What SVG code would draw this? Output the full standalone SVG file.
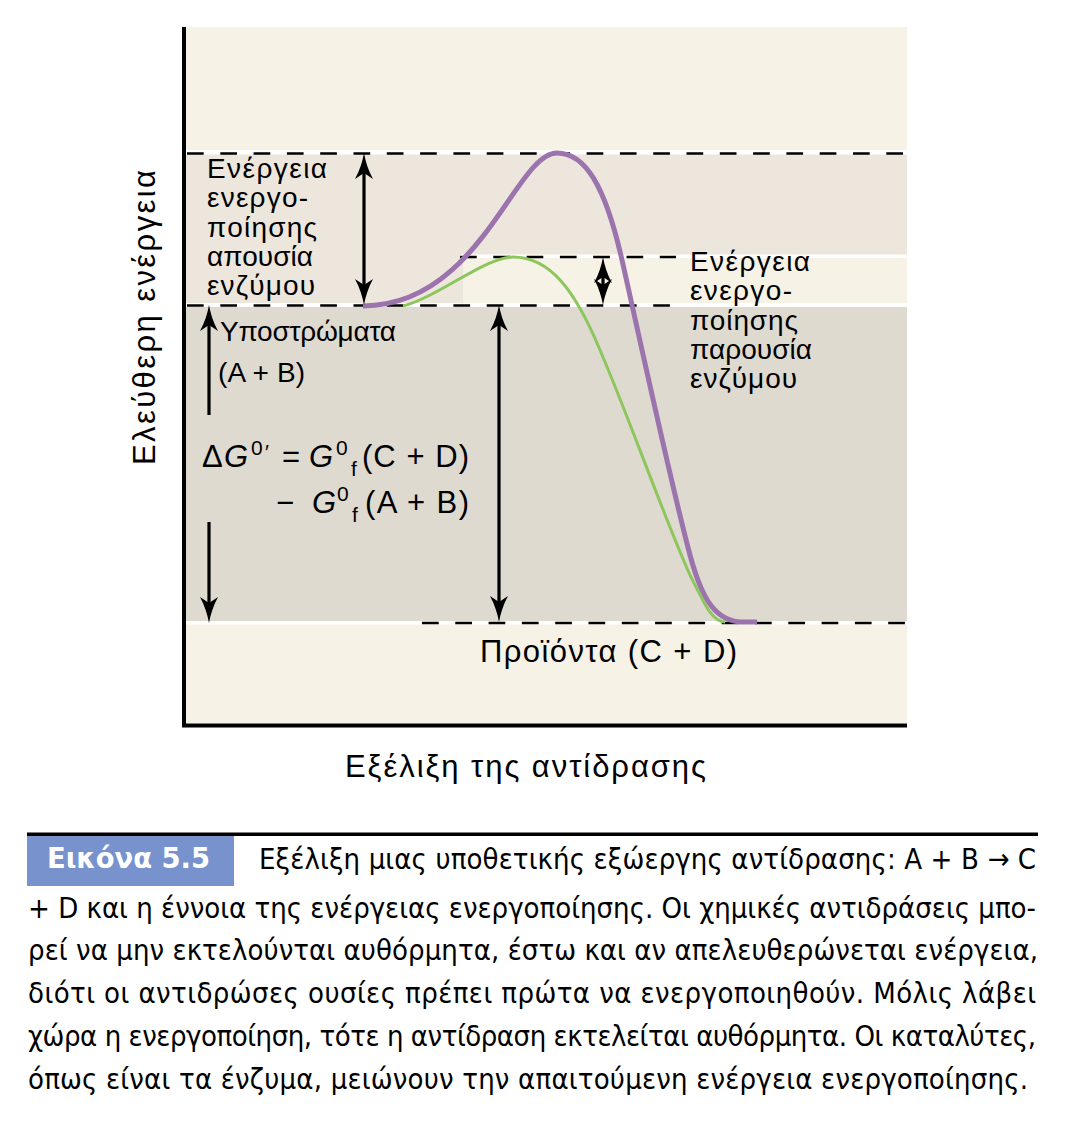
<svg xmlns="http://www.w3.org/2000/svg" xmlns:xlink="http://www.w3.org/1999/xlink" width="1073" height="1128" viewBox="0 0 1073 1128">
<style>
.lbl{font-family:"Liberation Sans",Arial,sans-serif;font-size:28px;fill:#000}
.big{font-family:"Liberation Sans",Arial,sans-serif;font-size:31px;fill:#000}
.sm{font-family:"Liberation Sans",Arial,sans-serif;font-size:21px;fill:#000}
.it{font-style:italic}
.cap{font-family:"DejaVu Sans Condensed","DejaVu Sans",sans-serif;font-stretch:condensed;font-size:29px;fill:#000}
.white{fill:#fff}
.dash{stroke:#000;stroke-width:2.6;stroke-dasharray:16.7 16.6;fill:none}
.shaft{stroke:#000;stroke-width:3.2;fill:none}
.axis{stroke:#000;stroke-width:4;fill:none}
</style>
<defs>
<path id="ah" d="M0,0 C1.5,8 4,17 9,26 L0,20 L-9,26 C-4,17 -1.5,8 0,0 Z" fill="#000"/>
</defs>
<rect width="1073" height="1128" fill="#fff"/>
<g id="plot-background">
<rect x="186" y="27" width="721" height="696" fill="#F6F2E6"/>
<rect x="186" y="153" width="721" height="152" fill="#EDE6DD"/>
<rect x="463" y="257" width="444" height="48" fill="#F6F2E6"/>
<rect x="186" y="305" width="721" height="317" fill="#DEDAD0"/>
<rect x="186" y="150" width="721" height="4.5" class="white"/>
<rect x="460" y="254.5" width="447" height="3.5" class="white"/>
<rect x="186" y="303" width="721" height="4" class="white"/>
<rect x="186" y="621" width="721" height="3.5" class="white"/>
<line x1="187" y1="153.5" x2="907" y2="153.5" class="dash"/>
<line x1="460" y1="257" x2="676" y2="257" class="dash"/>
<line x1="187" y1="305.5" x2="672" y2="305.5" class="dash"/>
<line x1="422" y1="623" x2="907" y2="623" class="dash"/>
<polyline points="184,27 184,725.5 907,725.5" class="axis"/>
</g>
<g id="curve-uncatalyzed">
<path d="M363,306 C480,306 515,153 557,153 C585,153 605,185 622,260 C640,340 670,480 690,555 C700,592 712,620 740,622 L757,622" fill="none" stroke="#9B73AD" stroke-width="5"/>
</g>
<g id="curve-catalyzed">
<path d="M403,306 C440,296 485,257 513,257 C550,257 575,290 600,350 C630,420 665,520 690,575 C705,605 712,622 725,622" fill="none" stroke="#8CC65D" stroke-width="3"/>
</g>
<g id="connectors">
<line x1="364" y1="165" x2="364" y2="293" class="shaft"/>
<use xlink:href="#ah" transform="translate(364,153)"/>
<use xlink:href="#ah" transform="translate(364,305) rotate(180)"/>
<line x1="603" y1="268" x2="603" y2="294" class="shaft"/>
<use xlink:href="#ah" transform="translate(603,257)"/>
<use xlink:href="#ah" transform="translate(603,305) rotate(180)"/>
<line x1="499" y1="317" x2="499" y2="610" class="shaft"/>
<use xlink:href="#ah" transform="translate(499,305)"/>
<use xlink:href="#ah" transform="translate(499,622) rotate(180)"/>
<line x1="209" y1="317" x2="209" y2="415" class="shaft"/>
<use xlink:href="#ah" transform="translate(209,305)"/>
<line x1="209" y1="522" x2="209" y2="611" class="shaft"/>
<use xlink:href="#ah" transform="translate(209,623) rotate(180)"/>
</g>
<g id="label-uncatalyzed">
<text class="lbl" x="207" y="178" textLength="120" lengthAdjust="spacing">Ενέργεια</text>
<text class="lbl" x="207" y="207" textLength="101" lengthAdjust="spacing">ενεργο-</text>
<text class="lbl" x="207" y="237" textLength="110" lengthAdjust="spacing">ποίησης</text>
<text class="lbl" x="207" y="266" textLength="106" lengthAdjust="spacing">απουσία</text>
<text class="lbl" x="207" y="295" textLength="108" lengthAdjust="spacing">ενζύμου</text>
</g>
<g id="label-catalyzed">
<text class="lbl" x="690" y="271" textLength="120" lengthAdjust="spacing">Ενέργεια</text>
<text class="lbl" x="690" y="300" textLength="102" lengthAdjust="spacing">ενεργο-</text>
<text class="lbl" x="690" y="330" textLength="108" lengthAdjust="spacing">ποίησης</text>
<text class="lbl" x="690" y="359" textLength="122" lengthAdjust="spacing">παρουσία</text>
<text class="lbl" x="690" y="388" textLength="107" lengthAdjust="spacing">ενζύμου</text>
</g>
<g id="label-substrates">
<text class="lbl" x="220" y="341" textLength="176" lengthAdjust="spacing">Υποστρώματα</text>
<text class="lbl" x="218" y="382" textLength="87" lengthAdjust="spacing">(A + B)</text>
</g>
<g id="label-dg">
<text class="big" x="202" y="467">Δ</text>
<text class="big it" x="224" y="467">G</text>
<text class="sm" x="251" y="455">0</text>
<text class="sm" x="265" y="459">′</text>
<text class="big" x="282" y="467">=</text>
<text class="big it" x="309" y="467">G</text>
<text class="sm" x="336" y="455">0</text>
<text class="sm" x="351" y="476">f</text>
<text class="big" x="362" y="467" textLength="107" lengthAdjust="spacing">(C + D)</text>
<text class="big" x="276" y="513">−</text>
<text class="big it" x="312" y="513">G</text>
<text class="sm" x="337" y="501">0</text>
<text class="sm" x="352" y="522">f</text>
<text class="big" x="365" y="513" textLength="104" lengthAdjust="spacing">(A + B)</text>
</g>
<g id="label-products">
<text class="big" x="480" y="662" textLength="257" lengthAdjust="spacing">Προϊόντα (C + D)</text>
</g>
<g id="axis-x-label">
<text class="big" x="345" y="777" font-size="31" textLength="361" lengthAdjust="spacing">Εξέλιξη της αντίδρασης</text>
</g>
<g id="axis-y-label">
<text class="big" transform="translate(155,465) rotate(-90)" x="0" y="0" font-size="31" textLength="295" lengthAdjust="spacing">Ελεύθερη ενέργεια</text>
</g>
<g id="caption">
<rect x="27" y="832.5" width="1011" height="3.5" fill="#000"/>
<rect x="27" y="836" width="207" height="50" fill="#7792CC"/>
<text class="cap" x="47" y="868" font-weight="bold" font-size="32" style="fill:#fff" textLength="163" lengthAdjust="spacingAndGlyphs">Εικόνα 5.5</text>
<text class="cap" x="259" y="869" textLength="777" lengthAdjust="spacing">Εξέλιξη μιας υποθετικής εξώεργης αντίδρασης: A + B → C</text>
<text class="cap" x="28" y="918" textLength="1008" lengthAdjust="spacing">+ D και η έννοια της ενέργειας ενεργοποίησης. Οι χημικές αντιδράσεις μπο-</text>
<text class="cap" x="28" y="960" textLength="1010" lengthAdjust="spacing">ρεί να μην εκτελούνται αυθόρμητα, έστω και αν απελευθερώνεται ενέργεια,</text>
<text class="cap" x="28" y="1003" textLength="1008" lengthAdjust="spacing">διότι οι αντιδρώσες ουσίες πρέπει πρώτα να ενεργοποιηθούν. Μόλις λάβει</text>
<text class="cap" x="28" y="1046" textLength="1008" lengthAdjust="spacing">χώρα η ενεργοποίηση, τότε η αντίδραση εκτελείται αυθόρμητα. Οι καταλύτες,</text>
<text class="cap" x="28" y="1089" textLength="1000" lengthAdjust="spacing">όπως είναι τα ένζυμα, μειώνουν την απαιτούμενη ενέργεια ενεργοποίησης.</text>
</g>
</svg>
